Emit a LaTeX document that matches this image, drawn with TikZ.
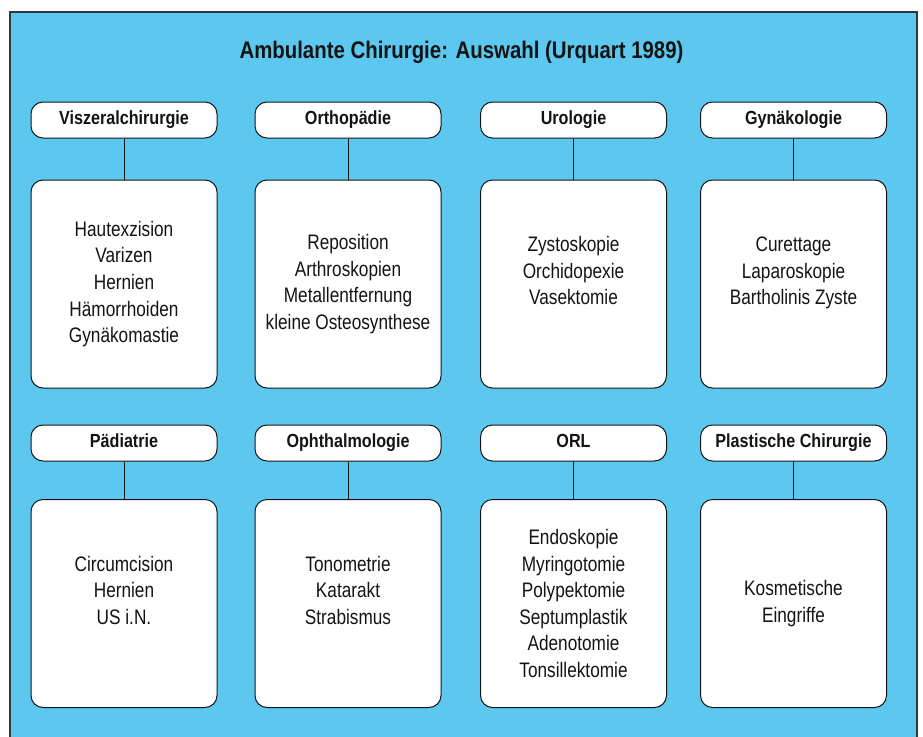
\documentclass[tikz,border=0pt]{standalone}
\usepackage{fontspec}
\newfontfamily\bodyf{Liberation Sans}[FakeStretch=0.82]
\newfontfamily\headf{Liberation Sans}[FakeStretch=0.85]
\definecolor{bgblue}{RGB}{92,200,240}
\definecolor{framegray}{RGB}{50,55,60}
\definecolor{inkc}{RGB}{20,20,20}
\begin{document}
\begin{tikzpicture}[x=1pt,y=-1pt,
  hdr/.style={draw=inkc, line width=1pt, fill=white, rounded corners=12pt,
    minimum width=186pt, minimum height=36pt, inner sep=0pt,
    text height=13.5pt, text depth=4pt,
    font=\headf\bfseries\fontsize{19}{22}\selectfont, text=inkc},
  cbox/.style={draw=inkc, line width=1pt, fill=white, rounded corners=12pt,
    minimum width=186pt, minimum height=208pt, inner sep=0pt, align=center,
    font=\bodyf\fontsize{21}{26.6}\selectfont, text=inkc},
  link/.style={draw=inkc, line width=0.9pt}]
\useasboundingbox (0,0) rectangle (923,736);
\fill[white] (0,0) rectangle (923,736);
\fill[bgblue] (10,12) rectangle (917,745);
\draw[framegray, line width=2pt] (10,745) -- (10,12) -- (917,12) -- (917,745);
\node[font=\headf\bfseries\fontsize{24}{28}\selectfont, text=inkc] (title) at (461.5,52) {Ambulante Chirurgie: Auswahl (Urquart 1989)};
% top row
\node[hdr] (h1) at (124,120) {Viszeralchirurgie};
\node[hdr] (h2) at (348,120) {Orthopädie};
\node[hdr] (h3) at (573.5,120) {Urologie};
\node[hdr] (h4) at (793.5,120) {Gynäkologie};
\node[cbox] (b1) at (124,284) {Hautexzision\\Varizen\\Hernien\\Hämorrhoiden\\Gynäkomastie};
\node[cbox] (b2) at (348,284) {Reposition\\Arthroskopien\\Metallentfernung\\kleine Osteosynthese};
\node[cbox] (b3) at (573.5,284) {Zystoskopie\\Orchidopexie\\Vasektomie\\\mbox{}};
\node[cbox] (b4) at (793.5,284) {Curettage\\Laparoskopie\\Bartholinis Zyste\\\mbox{}};
% bottom row
\node[hdr] (h5) at (124,443) {Pädiatrie};
\node[hdr] (h6) at (348,443) {Ophthalmologie};
\node[hdr] (h7) at (573.5,443) {ORL};
\node[hdr] (h8) at (793.5,443) {Plastische Chirurgie};
\node[cbox] (b5) at (124,603.5) {Circumcision\\Hernien\\US i.N.\\\mbox{}};
\node[cbox] (b6) at (348,603.5) {Tonometrie\\Katarakt\\Strabismus\\\mbox{}};
\node[cbox] (b7) at (573.5,603.5) {Endoskopie\\Myringotomie\\Polypektomie\\Septumplastik\\Adenotomie\\Tonsillektomie};
\node[cbox] (b8) at (793.5,603.5) {Kosmetische\\Eingriffe};
\foreach \i in {1,...,8} {\draw[link] (h\i.south) -- (b\i.north);}
\end{tikzpicture}
\end{document}
